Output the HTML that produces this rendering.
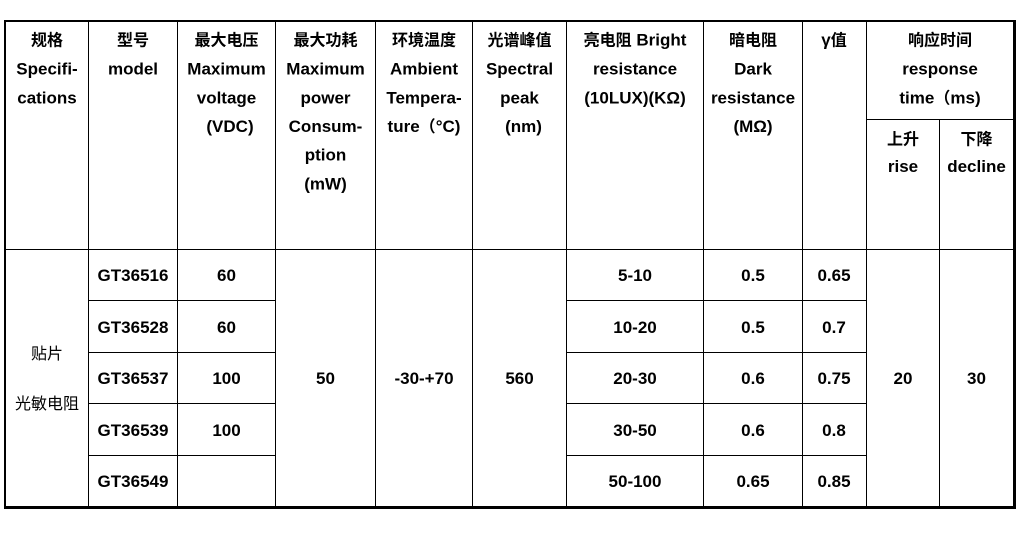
<!DOCTYPE html>
<html>
<head>
<meta charset="utf-8">
<style>
  html, body { margin: 0; padding: 0; background: #ffffff; }
  body { width: 1021px; height: 559px; overflow: hidden; }
  svg { display: block; }
  text { font-family: "Liberation Sans", "Noto Sans CJK SC", sans-serif; font-weight: bold; font-size: 17px; fill: #000; }
  .c { font-family: "Noto Sans CJK SC", "WenQuanYi Zen Hei", sans-serif; font-size: 16px; }
  .n { font-weight: normal; }
</style>
</head>
<body>
<svg width="1021" height="559" viewBox="0 0 1021 559" xmlns="http://www.w3.org/2000/svg" shape-rendering="crispEdges">
  <rect x="0" y="0" width="1021" height="559" fill="#fff"/>
  <!-- outer border -->
  <rect x="4" y="20" width="1012" height="2" fill="#000"/>
  <rect x="4" y="20" width="2" height="489" fill="#000"/>
  <rect x="1013" y="20" width="3" height="489" fill="#000"/>
  <rect x="4" y="506" width="1012" height="3" fill="#000"/>
  <!-- vertical lines -->
  <rect x="88" y="22" width="1" height="484" fill="#000"/>
  <rect x="177" y="22" width="1" height="484" fill="#000"/>
  <rect x="275" y="22" width="1" height="484" fill="#000"/>
  <rect x="375" y="22" width="1" height="484" fill="#000"/>
  <rect x="472" y="22" width="1" height="484" fill="#000"/>
  <rect x="566" y="22" width="1" height="484" fill="#000"/>
  <rect x="703" y="22" width="1" height="484" fill="#000"/>
  <rect x="802" y="22" width="1" height="484" fill="#000"/>
  <rect x="866" y="22" width="1" height="484" fill="#000"/>
  <rect x="939" y="119" width="1" height="387" fill="#000"/>
  <!-- horizontal lines -->
  <rect x="6" y="249" width="1007" height="1" fill="#000"/>
  <rect x="866" y="119" width="147" height="1" fill="#000"/>
  <rect x="88" y="300" width="187" height="1" fill="#000"/>
  <rect x="88" y="352" width="187" height="1" fill="#000"/>
  <rect x="88" y="403" width="187" height="1" fill="#000"/>
  <rect x="88" y="455" width="187" height="1" fill="#000"/>
  <rect x="566" y="300" width="300" height="1" fill="#000"/>
  <rect x="566" y="352" width="300" height="1" fill="#000"/>
  <rect x="566" y="403" width="300" height="1" fill="#000"/>
  <rect x="566" y="455" width="300" height="1" fill="#000"/>

  <g text-anchor="middle">
    <!-- header col1 -->
    <text x="47" y="45.5" class="c">规格</text>
    <text x="47" y="74.5">Specifi-</text>
    <text x="47" y="103.3">cations</text>
    <!-- col2 -->
    <text x="133" y="45.5" class="c">型号</text>
    <text x="133" y="74.5">model</text>
    <!-- col3 -->
    <text x="226.5" y="45.5" class="c">最大电压</text>
    <text x="226.5" y="74.5">Maximum</text>
    <text x="226.5" y="103.3">voltage</text>
    <text x="230" y="132">(VDC)</text>
    <!-- col4 -->
    <text x="325.5" y="45.5" class="c">最大功耗</text>
    <text x="325.5" y="74.5">Maximum</text>
    <text x="325.5" y="103.3">power</text>
    <text x="325.5" y="132">Consum-</text>
    <text x="325.5" y="160.7">ption</text>
    <text x="325.5" y="189.5">(mW)</text>
    <!-- col5 -->
    <text x="424" y="45.5" class="c">环境温度</text>
    <text x="424" y="74.5">Ambient</text>
    <text x="424" y="103.3">Tempera-</text>
    <text x="424" y="132">ture<tspan class="c">（</tspan>°C)</text>
    <!-- col6 -->
    <text x="519.5" y="45.5" class="c">光谱峰值</text>
    <text x="519.5" y="74.5">Spectral</text>
    <text x="519.5" y="103.3">peak</text>
    <text x="523.5" y="132">(nm)</text>
    <!-- col7 -->
    <text x="635" y="45.5"><tspan class="c">亮电阻</tspan> Bright</text>
    <text x="635" y="74.5">resistance</text>
    <text x="635" y="103.3">(10LUX)(KΩ)</text>
    <!-- col8 -->
    <text x="753" y="45.5" class="c">暗电阻</text>
    <text x="753" y="74.5">Dark</text>
    <text x="753" y="103.3">resistance</text>
    <text x="753" y="132">(MΩ)</text>
    <!-- col9 -->
    <text x="834" y="45.5">γ<tspan class="c">值</tspan></text>
    <!-- col10-11 -->
    <text x="940" y="45.5" class="c">响应时间</text>
    <text x="940" y="74.5">response</text>
    <text x="940" y="103.3">time<tspan class="c">（</tspan>ms)</text>
    <text x="903" y="144.5" class="c">上升</text>
    <text x="903" y="172">rise</text>
    <text x="976.5" y="144.5" class="c">下降</text>
    <text x="976.5" y="172">decline</text>

    <!-- body -->
    <text x="47" y="359" class="c n">贴片</text>
    <text x="47" y="409" class="c n">光敏电阻</text>

    <text x="133" y="281">GT36516</text>
    <text x="133" y="333">GT36528</text>
    <text x="133" y="384">GT36537</text>
    <text x="133" y="436">GT36539</text>
    <text x="133" y="487">GT36549</text>

    <text x="226.5" y="281">60</text>
    <text x="226.5" y="333">60</text>
    <text x="226.5" y="384">100</text>
    <text x="226.5" y="436">100</text>

    <text x="325.5" y="384">50</text>
    <text x="424" y="384">-30-+70</text>
    <text x="519.5" y="384">560</text>

    <text x="635" y="281">5-10</text>
    <text x="635" y="333">10-20</text>
    <text x="635" y="384">20-30</text>
    <text x="635" y="436">30-50</text>
    <text x="635" y="487">50-100</text>

    <text x="753" y="281">0.5</text>
    <text x="753" y="333">0.5</text>
    <text x="753" y="384">0.6</text>
    <text x="753" y="436">0.6</text>
    <text x="753" y="487">0.65</text>

    <text x="834" y="281">0.65</text>
    <text x="834" y="333">0.7</text>
    <text x="834" y="384">0.75</text>
    <text x="834" y="436">0.8</text>
    <text x="834" y="487">0.85</text>

    <text x="903" y="384">20</text>
    <text x="976.5" y="384">30</text>
  </g>
</svg>
</body>
</html>
